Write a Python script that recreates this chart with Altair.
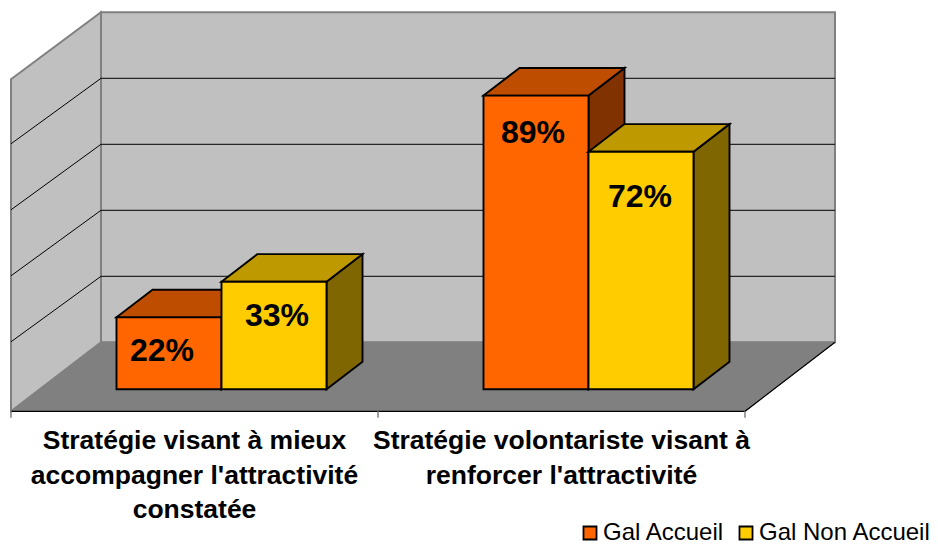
import altair as alt
import pandas as pd

# ---- chart values
CATEGORIES = ["Stratégie visant à mieux\naccompagner l'attractivité\nconstatée",
              "Stratégie volontariste visant à\nrenforcer l'attractivité"]
SERIES = ["Gal Accueil", "Gal Non Accueil"]
VALUES_ACCUEIL = [0.218, 0.89]
VALUES_NON_ACCUEIL = [0.326, 0.72]
GRID_VALUES = [0.2, 0.4, 0.6, 0.8]

# ---- colours
FRONT = ["#FF6600", "#FFCC00"]
TOP = ["#BF4D00", "#BF9900"]
SIDE = ["#803300", "#806600"]
WALL = "#C0C0C0"
FLOOR = "#808080"
EDGE = "#808080"

# ---- layout of the oblique projection (value axis in fractions of 1)
W, H = 922, 538
PX_PER_UNIT = 330.0          # pixels for 100 %
AXIS_LEN = 734.0             # length of the category axis
CAT_W = AXIS_LEN / 2
DEPTH_X = 90.0
FLOOR_RISE = 69.0
WALL_RISE = 67.0
GRID_RISE = 65.5
BAR_D0 = 22.0 / 69.0         # depth of bar fronts
BAR_DD = 0.40                # depth extent of bars
BAR_GAP = 76.8
BAR_W = 105.0
BAR_SW = 1.9

x_scale = alt.Scale(domain=[-3, W - 3], range=[0, W], nice=False, zero=False)
BACK_ZERO_PX = 342.3 - 8
y_scale = alt.Scale(domain=[(BACK_ZERO_PX - H) / PX_PER_UNIT, BACK_ZERO_PX / PX_PER_UNIT],
                    range=[H, 0], nice=False, zero=False)
X = alt.X("x:Q", scale=x_scale, axis=None)
Y = alt.Y("y:Q", scale=y_scale, axis=None)
X2 = alt.X2("x2:Q")
Y2 = alt.Y2("y2:Q")


def proj(x, v, depth, rise=FLOOR_RISE):
    return x + depth * DEPTH_X, v - (1 - depth) * rise / PX_PER_UNIT


def vband(rows, fill, stroke, sw=BAR_SW):
    """area between y and y2 with x running along"""
    return alt.Chart(pd.DataFrame(rows)).mark_area(
        fill=fill, stroke=stroke, strokeWidth=sw, opacity=1, strokeJoin="miter"
    ).encode(x=X, y=Y, y2=Y2, detail="id:N")


def hband(rows, fill, stroke, sw=BAR_SW):
    """area between x and x2 with y running along"""
    return alt.Chart(pd.DataFrame(rows)).mark_area(
        orient="horizontal", fill=fill, stroke=stroke, strokeWidth=sw, opacity=1,
        strokeJoin="miter"
    ).encode(y=Y, x=X, x2=X2, detail="id:N")


layers = []

# left wall
lx0, ltop = proj(0, 1.0, 0, WALL_RISE)
lx1, rtop = proj(0, 1.0, 1, WALL_RISE)
_, lbot = proj(0, 0, 0, FLOOR_RISE)
_, rbot = proj(0, 0, 1, FLOOR_RISE)
layers.append(vband([{"id": 0, "x": lx0, "y": ltop, "y2": lbot},
                     {"id": 0, "x": lx1, "y": rtop, "y2": rbot}], WALL, EDGE, 2))
# back wall
bx1 = AXIS_LEN + DEPTH_X
layers.append(vband([{"id": 0, "x": lx1, "y": 1.0, "y2": 0},
                     {"id": 0, "x": bx1, "y": 1.0, "y2": 0}], WALL, EDGE, 2))
# gridlines
grid_rows = []
for g in GRID_VALUES:
    gx, gy = proj(0, g, 0, GRID_RISE)
    grid_rows += [{"g": g, "o": 0, "x": gx, "y": gy},
                  {"g": g, "o": 1, "x": lx1, "y": g},
                  {"g": g, "o": 2, "x": bx1, "y": g}]
layers.append(alt.Chart(pd.DataFrame(grid_rows)).mark_line(color="#000000", strokeWidth=1).encode(
    x=X, y=Y, detail="g:N", order="o:Q"))
# floor
layers.append(hband([{"id": 0, "y": 0, "x": lx1, "x2": bx1},
                     {"id": 0, "y": lbot, "x": 0, "x2": AXIS_LEN}], FLOOR, FLOOR, 1))
# floor front and right edges
fx, fy = proj(AXIS_LEN, 0, 0)
layers.append(alt.Chart(pd.DataFrame([
    {"o": 0, "x": 0, "y": lbot}, {"o": 1, "x": fx, "y": fy}, {"o": 2, "x": bx1, "y": 0}
])).mark_line(color="#000000", strokeWidth=1.2).encode(x=X, y=Y, order="o:Q"))
# category ticks
TICK_PX = 6.5 / PX_PER_UNIT
layers.append(alt.Chart(pd.DataFrame([
    {"x": CAT_W * i, "y": lbot, "y2": lbot - TICK_PX} for i in range(3)
])).mark_rule(color=EDGE, strokeWidth=1.5).encode(x=X, y=Y, y2=Y2))

# bars
series_values = [VALUES_ACCUEIL, VALUES_NON_ACCUEIL]
for s, vals in enumerate(series_values):
    side_rows, top_rows = [], []
    for c, v in enumerate(vals):
        xl = CAT_W * c + BAR_GAP + s * BAR_W
        xr = xl + BAR_W
        sx0, sy0t = proj(xr, v, BAR_D0)
        sx1, sy1t = proj(xr, v, BAR_D0 + BAR_DD)
        _, sy0b = proj(xr, 0, BAR_D0)
        _, sy1b = proj(xr, 0, BAR_D0 + BAR_DD)
        side_rows += [{"id": c, "x": sx0, "y": sy0t, "y2": sy0b},
                      {"id": c, "x": sx1, "y": sy1t, "y2": sy1b}]
        tx0, ty0 = proj(xl, v, BAR_D0)
        tx1, _ = proj(xr, v, BAR_D0)
        bx0_, ty1 = proj(xl, v, BAR_D0 + BAR_DD)
        bx1_, _ = proj(xr, v, BAR_D0 + BAR_DD)
        top_rows += [{"id": c, "y": ty0, "x": tx0, "x2": tx1},
                     {"id": c, "y": ty1, "x": bx0_, "x2": bx1_}]
    layers.append(vband(side_rows, SIDE[s], "#000000"))
    layers.append(hband(top_rows, TOP[s], "#000000"))
    rows = []
    for c, v in enumerate(vals):
        xl = CAT_W * c + BAR_GAP + s * BAR_W
        x0, y1 = proj(xl, v, BAR_D0)
        x1, _ = proj(xl + BAR_W, v, BAR_D0)
        _, y0 = proj(xl, 0, BAR_D0)
        rows.append({"series": SERIES[s], "x": x0, "x2": x1, "y": y1, "y2": y0})
    layers.append(alt.Chart(pd.DataFrame(rows)).mark_rect(stroke="#000000", strokeWidth=BAR_SW).encode(
        x=X, x2=X2, y=Y, y2=Y2,
        color=alt.Color("series:N", scale=alt.Scale(domain=SERIES, range=FRONT),
                        legend=alt.Legend(
                            title=None, orient="none", legendX=570, legendY=513,
                            direction="horizontal", columns=2, symbolType="square",
                            symbolSize=170, symbolStrokeColor="#000000", symbolStrokeWidth=1.8,
                            labelFont="Liberation Sans", labelFontSize=24, labelColor="#000000",
                            labelOffset=1, columnPadding=9, symbolOpacity=1,
                            labelLimit=300))))

# value labels (hand placed in the original chart, hence the offsets)
LABEL_SHIFT = [[(-7, 34), (3, 34)], [(-3, 37), (-1, 45)]]
for s, vals in enumerate(series_values):
    for c, v in enumerate(vals):
        xl = CAT_W * c + BAR_GAP + s * BAR_W
        x0, y1 = proj(xl + BAR_W / 2, v, BAR_D0)
        dx, dy = LABEL_SHIFT[c][s]
        layers.append(alt.Chart(pd.DataFrame([{"x": x0, "y": y1, "v": v}])).mark_text(
            font="Liberation Sans", fontWeight="bold", fontSize=32, color="#000000",
            dx=dx, dy=dy, align="center", baseline="middle"
        ).encode(x=X, y=Y, text=alt.Text("v:Q", format=".0%")))

# category labels
cat_rows = [{"x": CAT_W * (i + 0.5), "t": t} for i, t in enumerate(CATEGORIES)]
layers.append(alt.Chart(pd.DataFrame(cat_rows)).mark_text(
    font="Liberation Sans", fontWeight="bold", fontSize=26.5, color="#000000",
    align="center", baseline="top", lineBreak="\n", lineHeight=34.5
).encode(x=X, y=alt.value(420), text="t:N"))

chart = alt.layer(*layers).properties(
    width=W, height=H, padding=0,
    autosize=alt.AutoSizeParams(type="none"),
    background="#FFFFFF",
).configure_view(stroke=None)

chart.save("out.html", embed_options={"renderer": "svg", "actions": False})
